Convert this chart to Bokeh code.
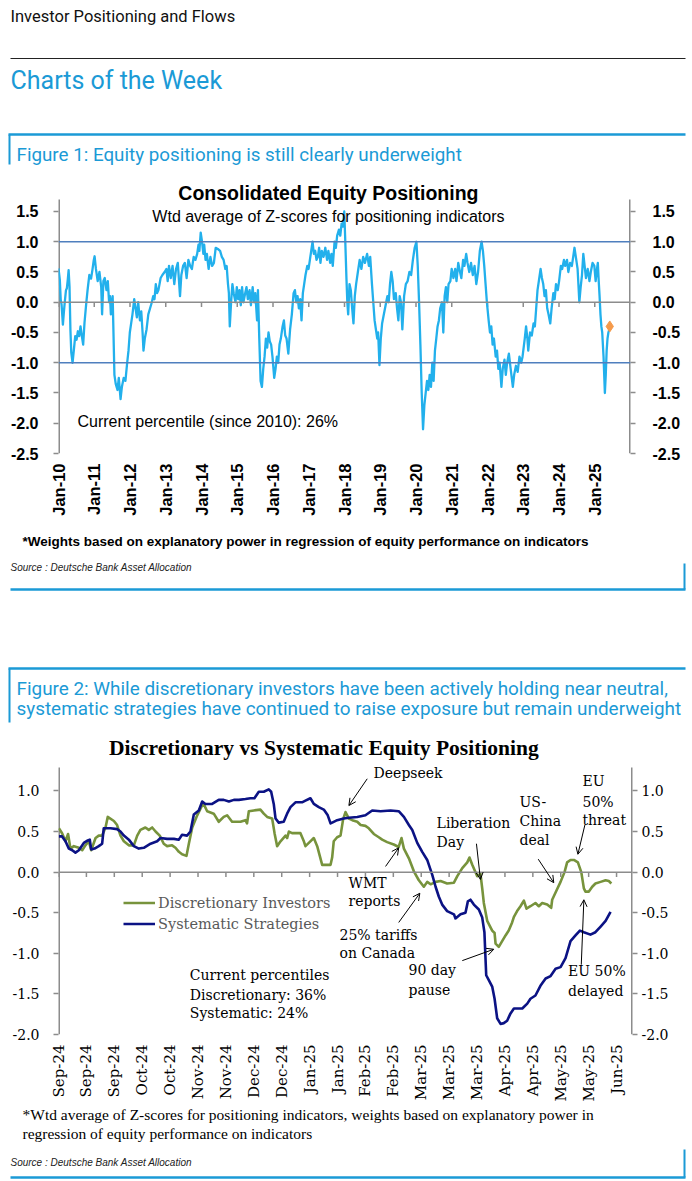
import math
from bokeh.plotting import figure
from bokeh.layouts import column
from bokeh.models import (Range1d, Span, Label, LinearAxis, FixedTicker,
                          NumeralTickFormatter, Arrow, OpenHead, ColumnDataSource,
                          Legend, LegendItem)
from bokeh.embed import file_html
from bokeh.resources import INLINE

# ---------------- Figure 1 data (decimal year, weighted z-score) ----------------
years1 = [
    2010.000, 2010.037, 2010.062, 2010.086, 2010.123, 2010.148, 2010.172, 2010.209, 2010.234, 2010.259,
    2010.283, 2010.308, 2010.333, 2010.357, 2010.394, 2010.431, 2010.468, 2010.505, 2010.542, 2010.579,
    2010.616, 2010.653, 2010.690, 2010.727, 2010.776, 2010.813, 2010.862, 2010.911, 2010.948, 2010.985,
    2011.010, 2011.047, 2011.096, 2011.145, 2011.195, 2011.219, 2011.256, 2011.293, 2011.342, 2011.379,
    2011.416, 2011.441, 2011.465, 2011.515, 2011.564, 2011.601, 2011.650, 2011.687, 2011.736, 2011.773,
    2011.823, 2011.872, 2011.921, 2011.958, 2011.995,
    2012.032, 2012.069, 2012.118, 2012.155, 2012.192, 2012.229, 2012.278, 2012.315, 2012.352, 2012.377,
    2012.414, 2012.463, 2012.512, 2012.562, 2012.611, 2012.648, 2012.685, 2012.722, 2012.758, 2012.795,
    2012.857, 2012.906, 2012.968,
    2013.017, 2013.054, 2013.091, 2013.140, 2013.190, 2013.239, 2013.288, 2013.337, 2013.399, 2013.436,
    2013.485, 2013.534, 2013.584, 2013.633, 2013.682, 2013.731, 2013.781, 2013.830, 2013.879, 2013.916,
    2013.941, 2013.978,
    2014.015, 2014.052, 2014.076, 2014.113, 2014.150, 2014.199, 2014.249, 2014.298, 2014.347, 2014.397,
    2014.458, 2014.520, 2014.569, 2014.618, 2014.667, 2014.704, 2014.741, 2014.766, 2014.791, 2014.828,
    2014.865, 2014.901, 2014.951, 2014.988,
    2015.025, 2015.062, 2015.099, 2015.135, 2015.172, 2015.222, 2015.259, 2015.296, 2015.345, 2015.382,
    2015.431, 2015.468, 2015.505, 2015.554, 2015.579, 2015.616, 2015.653, 2015.690, 2015.727, 2015.764,
    2015.801, 2015.837, 2015.874, 2015.911, 2015.948, 2015.985,
    2016.034, 2016.071, 2016.108, 2016.145, 2016.182, 2016.219, 2016.268, 2016.305, 2016.342, 2016.379,
    2016.429, 2016.478, 2016.527, 2016.576, 2016.613, 2016.650, 2016.687, 2016.724, 2016.761, 2016.798,
    2016.835, 2016.872, 2016.909, 2016.958, 2016.995,
    2017.032, 2017.069, 2017.106, 2017.143, 2017.180, 2017.217, 2017.254, 2017.291, 2017.328, 2017.365,
    2017.414, 2017.463, 2017.512, 2017.549, 2017.599, 2017.635, 2017.672, 2017.722, 2017.758, 2017.795,
    2017.845, 2017.882, 2017.919, 2017.956, 2017.993,
    2018.017, 2018.054, 2018.079, 2018.103, 2018.140, 2018.177, 2018.214, 2018.251, 2018.288, 2018.325,
    2018.374, 2018.424, 2018.473, 2018.522, 2018.571, 2018.633, 2018.682, 2018.719, 2018.768, 2018.805,
    2018.842, 2018.879, 2018.916, 2018.941, 2018.978,
    2019.015, 2019.052, 2019.101, 2019.150, 2019.199, 2019.236, 2019.273, 2019.310, 2019.347, 2019.384,
    2019.433, 2019.470, 2019.507, 2019.544, 2019.581, 2019.618, 2019.667, 2019.716, 2019.766, 2019.815,
    2019.864, 2019.913, 2019.963, 2020.012,
    2020.049, 2020.086, 2020.123, 2020.160, 2020.197, 2020.234, 2020.271, 2020.308, 2020.345, 2020.382,
    2020.419, 2020.456, 2020.493, 2020.530, 2020.567, 2020.603, 2020.640, 2020.677, 2020.727, 2020.764,
    2020.801, 2020.837, 2020.874, 2020.911, 2020.961, 2020.998,
    2021.047, 2021.096, 2021.133, 2021.182, 2021.231, 2021.268, 2021.318, 2021.355, 2021.404, 2021.441,
    2021.490, 2021.539, 2021.589, 2021.638, 2021.687, 2021.736, 2021.786, 2021.835, 2021.872, 2021.909,
    2021.946, 2021.983,
    2022.032, 2022.069, 2022.106, 2022.143, 2022.180, 2022.229, 2022.266, 2022.303, 2022.340, 2022.389,
    2022.426, 2022.475, 2022.512, 2022.549, 2022.598, 2022.648, 2022.709, 2022.746, 2022.796, 2022.845,
    2022.894, 2022.943, 2022.980,
    2023.042, 2023.079, 2023.116, 2023.140, 2023.190, 2023.239, 2023.288, 2023.325, 2023.362, 2023.399,
    2023.436, 2023.485, 2023.522, 2023.559, 2023.596, 2023.633, 2023.670, 2023.707, 2023.756, 2023.793,
    2023.842, 2023.879, 2023.916, 2023.966, 2024.003,
    2024.052, 2024.089, 2024.138, 2024.175, 2024.224, 2024.261, 2024.310, 2024.360, 2024.397, 2024.433,
    2024.483, 2024.520, 2024.569, 2024.606, 2024.643, 2024.680, 2024.717, 2024.754, 2024.803, 2024.852,
    2024.889, 2024.938, 2024.988,
    2025.025, 2025.062, 2025.086, 2025.111, 2025.135, 2025.160, 2025.185, 2025.209, 2025.246, 2025.283,
    2025.308, 2025.333, 2025.357, 2025.382, 2025.406]
zscore1 = [
    0.56, 0.37, 0.04, -0.04, -0.37, -0.18, -0.02, 0.20, 0.23, 0.37,
    0.53, 0.26, -0.45, -0.83, -1.00, -0.78, -0.56, -0.62, -0.48, -0.56,
    -0.40, -0.56, -0.70, -0.34, -0.02, 0.20, 0.45, 0.39, 0.53, 0.69,
    0.76, 0.55, 0.35, 0.50, 0.25, -0.20, 0.35, 0.40, 0.20, 0.35,
    0.00, 0.10, -0.20, 0.10, -1.20, -1.35, -1.45, -1.25, -1.60, -1.40,
    -1.25, -1.30, -1.00, -0.80, -0.50,
    -0.35, -0.20, 0.05, -0.10, -0.25, 0.00, -0.30, -0.15, -0.50, -0.80,
    -0.60, -0.45, -0.20, -0.10, 0.00, 0.10, 0.05, 0.30, 0.15, 0.20,
    0.40, 0.45, 0.50,
    0.55, 0.35, 0.60, 0.40, 0.60, 0.30, 0.55, 0.65, 0.10, 0.45,
    0.60, 0.65, 0.40, 0.70, 0.60, 0.55, 0.75, 0.70, 0.80, 0.95,
    0.85, 1.15,
    1.00, 0.80, 0.95, 0.70, 0.80, 0.55, 0.75, 0.60, 0.65, 0.90,
    0.88, 0.85, 0.75, 0.70, 0.55, 0.60, 0.30, 0.15, -0.40, 0.00,
    0.30, 0.15, 0.00, 0.25,
    0.05, 0.20, -0.05, 0.25, 0.00, 0.15, 0.25, 0.05, 0.20, -0.05,
    0.25, 0.00, 0.15, -0.30, 0.20, -0.60, -1.30, -1.40, -1.10, -0.90,
    -0.60, -0.75, -0.50, -0.65, -0.70, -0.90,
    -1.25, -1.10, -0.90, -1.00, -0.70, -0.60, -0.40, -0.30, -0.55, -0.60,
    -0.85, -0.45, -0.20, 0.15, 0.20, 0.00, 0.10, -0.10, 0.05, -0.30,
    0.15, 0.30, 0.45, 0.60, 0.55,
    0.70, 0.85, 1.00, 0.80, 0.85, 0.70, 0.75, 0.90, 0.65, 0.85,
    0.75, 0.90, 0.70, 0.85, 0.65, 0.80, 0.60, 1.00, 0.90, 1.10,
    1.20, 1.10, 1.30, 1.25, 1.50,
    1.10, 0.40, 0.00, -0.20, 0.30, 0.20, -0.10, -0.35, 0.10, 0.30,
    0.50, 0.70, 0.55, 0.75, 0.65, 0.80, 0.60, 0.75, 0.30, 0.00,
    -0.30, -0.45, -0.60, -0.50, -1.04,
    -0.60, -0.35, -0.20, -0.05, 0.10, 0.00, 0.30, 0.50, 0.35, 0.05,
    0.15, -0.10, -0.30, 0.10, 0.00, -0.45, 0.10, 0.30, 0.35, 0.50,
    0.45, 0.70, 0.90, 1.00,
    0.60, 0.00, -0.70, -1.50, -2.10, -1.70, -1.50, -1.30, -1.45, -1.20,
    -1.40, -1.00, -1.30, -0.80, -0.60, -0.40, -0.30, -0.10, 0.00, -0.50,
    0.10, 0.25, 0.00, 0.30, 0.35, 0.55,
    0.40, 0.55, 0.35, 0.65, 0.50, 0.40, 0.70, 0.60, 0.80, 0.65,
    0.50, 0.65, 0.45, 0.60, 0.30, 0.50, 0.85, 1.00, 0.85, 0.60,
    0.30, 0.00,
    -0.30, -0.50, -0.40, -0.70, -0.60, -0.90, -0.80, -1.10, -1.00, -1.40,
    -1.10, -0.95, -1.20, -1.00, -0.85, -1.10, -1.40, -1.20, -1.05, -1.15,
    -0.90, -1.00, -0.90,
    -0.60, -0.40, -0.60, -0.80, -0.50, -0.55, -0.35, -0.40, -0.10, 0.20,
    0.35, 0.55, 0.40, 0.30, 0.10, 0.20, -0.10, -0.20, -0.35, -0.10,
    0.15, 0.05, 0.30, 0.20, 0.35,
    0.60, 0.55, 0.70, 0.60, 0.70, 0.50, 0.65, 0.60, 0.75, 0.90,
    0.70, 0.55, 0.00, 0.25, 0.45, 0.80, 0.60, 0.40, 0.55, 0.35,
    0.50, 0.65, 0.60,
    0.35, 0.55, 0.65, 0.35, 0.10, -0.20, -0.40, -0.50, -0.90, -1.50,
    -1.20, -0.80, -0.60, -0.50, -0.45]
latest_year = [2025.42]
latest_value = [-0.4]
year_ticks = list(range(2010, 2026))
year_labels = ["Jan-10", "Jan-11", "Jan-12", "Jan-13", "Jan-14", "Jan-15", "Jan-16", "Jan-17",
               "Jan-18", "Jan-19", "Jan-20", "Jan-21", "Jan-22", "Jan-23", "Jan-24", "Jan-25"]
y_ticks1 = [-2.5, -2.0, -1.5, -1.0, -0.5, 0.0, 0.5, 1.0, 1.5]
axis_span1 = (-2.5, 1.70)

# ---------------- Figure 2 data (days since 2 Sep 2024) ----------------
disc_day = [0.2, 1.8, 3.5, 4.8, 6.0, 7.7, 10.2, 11.9, 13.5, 15.2, 16.4, 18.6, 20.2, 21.9, 23.6, 24.7,
            27.8, 29.4, 31.1, 32.8, 35.3, 37.8, 39.5, 41.1, 43.6, 45.3, 47.0, 48.7, 50.8, 52.8, 54.5,
            57.0, 58.7, 60.4, 62.0, 64.2, 65.4, 67.1, 69.6, 72.6, 74.6, 77.9, 80.4, 82.9, 84.6, 87.1,
            91.3, 93.8, 94.6, 95.5, 98.0, 101.3, 103.0, 104.7, 107.2, 108.4, 109.7, 111.4, 113.9,
            114.7, 115.6, 117.2, 121.4, 123.1, 123.9, 125.6, 128.1, 129.8, 131.1, 132.3, 136.5,
            137.3, 138.1, 139.8, 141.5, 142.8, 144.0, 145.7, 147.4, 149.9, 151.6, 154.0, 155.7,
            158.2, 160.7, 162.4, 164.9, 168.2, 170.7, 172.1, 173.3, 175.8, 178.3, 180.8, 183.3,
            185.0, 186.7, 189.2, 191.7, 195.0, 198.4, 200.1, 202.6, 205.1, 206.2, 207.6, 210.1,
            211.7, 212.6, 213.4, 215.1, 217.6, 218.8, 219.3, 220.9, 222.6, 224.3, 225.9, 227.6,
            228.5, 230.1, 231.8, 233.5, 234.8, 236.8, 239.3, 241.0, 242.7, 245.2, 247.2, 247.7,
            249.4, 251.9, 253.9, 255.2, 256.9, 258.6, 260.6, 262.3, 263.6, 264.4, 266.1, 267.8,
            269.4, 272.0, 274.5, 276.1, 277.4]
disc_val = [0.54, 0.48, 0.38, 0.47, 0.29, 0.32, 0.30, 0.27, 0.33, 0.38, 0.27, 0.42, 0.45, 0.45, 0.55, 0.68,
            0.63, 0.58, 0.45, 0.38, 0.33, 0.33, 0.45, 0.52, 0.55, 0.52, 0.55, 0.50, 0.45, 0.35, 0.32,
            0.33, 0.30, 0.25, 0.22, 0.20, 0.35, 0.55, 0.70, 0.85, 0.75, 0.72, 0.62, 0.68, 0.70, 0.62,
            0.62, 0.64, 0.60, 0.75, 0.76, 0.77, 0.72, 0.68, 0.66, 0.48, 0.32, 0.38, 0.45,
            0.42, 0.50, 0.48, 0.48, 0.38, 0.32, 0.36, 0.42, 0.32, 0.20, 0.09, 0.09,
            0.18, 0.38, 0.43, 0.45, 0.65, 0.74, 0.66, 0.64, 0.62, 0.58, 0.57, 0.54,
            0.47, 0.43, 0.40, 0.37, 0.34, 0.31, 0.42, 0.29, 0.17, 0.01, -0.10, -0.18,
            -0.12, -0.15, -0.12, -0.11, -0.14, -0.13, -0.05, 0.05, 0.12, 0.18, 0.09, -0.05,
            -0.02, -0.20, -0.38, -0.60, -0.72, -0.75, -0.88, -0.92, -0.85, -0.78, -0.72, -0.62,
            -0.55, -0.48, -0.42, -0.35, -0.45, -0.42, -0.38, -0.42, -0.38, -0.40, -0.44, -0.34,
            -0.25, -0.12, 0.0, 0.12, 0.15, 0.15, 0.12, 0.0, -0.20, -0.24, -0.24, -0.18,
            -0.14, -0.12, -0.10, -0.11, -0.14]
sys_day = [0.2, 1.8, 3.5, 5.2, 6.9, 8.5, 10.2, 12.7, 14.7, 15.7, 16.4, 18.1, 20.2, 21.9, 22.7, 26.1,
           29.4, 31.1, 32.8, 35.3, 37.8, 40.3, 42.8, 46.2, 49.5, 51.2, 54.5, 57.9, 60.4, 62.0, 64.5,
           66.2, 67.9, 70.4, 72.1, 73.7, 77.1, 80.4, 82.9, 85.5, 88.0, 90.5, 93.8, 96.3, 98.3, 100.5,
           103.0, 105.5, 106.7, 108.0, 108.9, 110.5, 113.0, 114.7, 116.4, 118.9, 122.2, 123.9, 126.4,
           128.1, 130.6, 133.1, 135.1, 136.5, 138.1, 139.8, 143.1, 145.7, 149.9, 154.0, 157.4, 161.6,
           166.6, 170.7, 173.3, 175.8, 177.5, 180.0, 182.5, 185.0, 187.5, 189.2, 190.8, 192.5, 195.0,
           198.4, 199.2, 201.7, 204.2, 205.4, 206.7, 208.4, 210.9, 212.6, 213.7, 214.6, 215.9, 217.6,
           218.8, 220.1, 221.8, 223.4, 225.1, 226.8, 228.5, 232.7, 235.2, 236.8, 239.3, 241.8, 244.4,
           246.9, 249.4, 251.9, 254.4, 256.9, 259.4, 261.6, 263.6, 266.9, 269.4, 272.0, 274.5, 277.0]
sys_val = [0.44, 0.44, 0.38, 0.29, 0.27, 0.24, 0.27, 0.36, 0.39, 0.40, 0.28, 0.29, 0.32, 0.35, 0.54, 0.54,
           0.53, 0.50, 0.45, 0.40, 0.32, 0.29, 0.30, 0.35, 0.38, 0.42, 0.41, 0.41, 0.40, 0.46, 0.45,
           0.50, 0.71, 0.76, 0.87, 0.84, 0.84, 0.89, 0.89, 0.87, 0.89, 0.89, 0.90, 0.91, 0.91, 0.99,
           0.99, 1.02, 0.99, 0.84, 0.66, 0.61, 0.62, 0.72, 0.80, 0.86, 0.86, 0.88, 0.91,
           0.84, 0.80, 0.77, 0.70, 0.60, 0.62, 0.64, 0.66, 0.67, 0.68, 0.70, 0.76, 0.75,
           0.76, 0.75, 0.68, 0.58, 0.52, 0.36, 0.25, 0.15, -0.03, -0.18, -0.30, -0.40, -0.48,
           -0.52, -0.57, -0.52, -0.50, -0.36, -0.34, -0.40, -0.46, -0.56, -0.74, -1.27, -1.33, -1.41,
           -1.56, -1.80, -1.87, -1.86, -1.83, -1.74, -1.68, -1.68, -1.62, -1.56, -1.52, -1.40, -1.31,
           -1.28, -1.19, -1.17, -1.06, -0.85, -0.78, -0.72, -0.74, -0.77, -0.74, -0.67, -0.60, -0.49]
day_ticks = list(range(0, 281, 14))
day_labels = ["Sep-24", "Sep-24", "Sep-24", "Oct-24", "Oct-24", "Nov-24", "Nov-24", "Dec-24",
              "Dec-24", "Jan-25", "Jan-25", "Feb-25", "Feb-25", "Mar-25", "Mar-25", "Mar-25",
              "Apr-25", "Apr-25", "May-25", "May-25", "Jun-25"]
y_ticks2 = [-2.0, -1.5, -1.0, -0.5, 0.0, 0.5, 1.0]
axis_span2 = (-2.0, 1.29)

# event notes: (text, day, value) and arrows (day0, val0, day1, val1)
notes2 = [("Deepseek", 158.1, 1.22),
          ("WMT", 145.5, -0.13), ("reports", 145.5, -0.36),
          ("25% tariffs", 141.0, -0.77), ("on Canada", 141.0, -1.00),
          ("Liberation", 189.7, 0.60), ("Day", 189.7, 0.37),
          ("90 day", 175.6, -1.20), ("pause", 175.6, -1.45),
          ("US-", 231.3, 0.86), ("China", 231.3, 0.63), ("deal", 231.3, 0.39),
          ("EU", 262.9, 1.12), ("50%", 262.9, 0.87), ("threat", 262.9, 0.64),
          ("EU 50%", 255.7, -1.22), ("delayed", 255.7, -1.46),
          ("Current percentiles", 65.9, -1.265), ("Discretionary: 36%", 65.9, -1.515),
          ("Systematic: 24%", 65.9, -1.74)]
arrows2 = dict(x0=[154.9, 164.1, 170.7, 209.7, 202.6, 240.7, 264.1, 262.3],
               y0=[1.15, 0.07, -0.62, 0.35, -1.09, 0.16, 0.58, -1.14],
               x1=[145.7, 170.7, 181.3, 211.7, 218.4, 248.5, 260.6, 263.6],
               y1=[0.82, 0.30, -0.26, -0.09, -0.95, -0.13, 0.22, -0.34])

# ---------------- styling ----------------
W = 692
DB_BLUE = "#1B9AD6"
GRAY = "#8C8C8C"
LINE1 = "#22B0EC"
BAND = "#4F7FBE"
ORANGE = "#F59A4B"
GREEN = "#77933C"
NAVY = "#0B1284"


def deco(top, bottom):
    p = figure(width=W, height=bottom - top, x_range=Range1d(0, W),
               y_range=Range1d(bottom, top), x_axis_type=None, y_axis_type=None,
               toolbar_location=None, output_backend="svg", min_border=0,
               outline_line_color=None, frame_align=False)
    return p


def label(p, x, y, s, size, color="black", font="Liberation Sans", style="normal", align="left"):
    p.add_layout(Label(x=x, y=y, text=s, text_font=font, text_font_size=f"{size}px",
                       text_color=color, text_font_style=style, text_align=align,
                       text_baseline="middle"))


def style_y(ax, ticks, font, size, bold, standoff):
    ax.ticker = FixedTicker(ticks=ticks)
    ax.formatter = NumeralTickFormatter(format="0.0")
    ax.axis_line_color = None
    ax.major_tick_line_color = GRAY
    ax.major_tick_line_width = 1.5
    ax.major_tick_out = 5
    ax.major_tick_in = 0
    ax.minor_tick_line_color = None
    ax.major_label_text_font = font
    ax.major_label_text_font_size = f"{size}px"
    ax.major_label_text_font_style = "bold" if bold else "normal"
    ax.major_label_text_color = "black"
    ax.major_label_standoff = standoff


def style_x(ax, ticks, labels, font, size, bold):
    ax.ticker = FixedTicker(ticks=ticks)
    ax.major_label_overrides = {t: l for t, l in zip(ticks, labels)}
    ax.axis_line_color = None
    ax.major_tick_line_color = None
    ax.minor_tick_line_color = None
    ax.major_tick_out = 0
    ax.major_tick_in = 0
    ax.major_label_orientation = math.pi / 2
    ax.major_label_standoff = 10
    ax.major_label_text_font = font
    ax.major_label_text_font_size = f"{size}px"
    ax.major_label_text_font_style = "bold" if bold else "normal"
    ax.major_label_text_color = "black"


# ---------------- header (page y 0 -> 180) ----------------
d1 = deco(0, 180)
label(d1, 10, 16, "Investor Positioning and Flows", 16.5, "#111111", "Roboto")
d1.line([10, 685], [58, 58], line_color="#222222", line_width=1.2)
label(d1, 10, 80, "Charts of the Week", 25, DB_BLUE, "Roboto")
d1.line([8, 685], [134, 134], line_color=DB_BLUE, line_width=2.5)
d1.line([9, 9], [134, 164], line_color=DB_BLUE, line_width=2)
label(d1, 16, 154, "Figure 1: Equity positioning is still clearly underweight", 18.8, DB_BLUE, "Roboto")

# ---------------- chart 1 (page y 180 -> 525) ----------------
p1 = figure(width=W, height=345, x_range=Range1d(2010, 2026), y_range=Range1d(-2.5, 2.012),
            toolbar_location=None, output_backend="svg", frame_align=False,
            min_border_left=58, min_border_right=62, min_border_top=0, min_border_bottom=72,
            outline_line_color=None)
p1.grid.visible = False
style_y(p1.yaxis[0], y_ticks1, "Liberation Sans", 16, True, 15)
ry1 = LinearAxis()
style_y(ry1, y_ticks1, "Liberation Sans", 16, True, 17)
p1.add_layout(ry1, "right")
style_x(p1.xaxis[0], year_ticks, year_labels, "Liberation Sans", 16.5, True)
p1.segment(x0=[2010, 2026], y0=[axis_span1[0]] * 2, x1=[2010, 2026], y1=[axis_span1[1]] * 2,
           line_color=GRAY, line_width=3)
p1.add_layout(Span(location=1.0, dimension="width", line_color=BAND, line_width=1.3))
p1.add_layout(Span(location=-1.0, dimension="width", line_color=BAND, line_width=1.3))
p1.add_layout(Span(location=0.0, dimension="width", line_color=GRAY, line_width=1.5))
p1.segment(x0=year_ticks, y0=[0] * len(year_ticks), x1=year_ticks, y1=[-0.08] * len(year_ticks),
           line_color=GRAY, line_width=1.5)
p1.line(years1, zscore1, line_color=LINE1, line_width=2.3, line_join="round")
p1.scatter(latest_year, latest_value, marker="diamond", size=11, fill_color=ORANGE,
           line_color=ORANGE)
label(p1, 2017.55, 1.80, "Consolidated Equity Positioning", 19.5, "black", "Liberation Sans",
      "bold", "center")
label(p1, 2017.55, 1.417, "Wtd average of Z-scores for positioning indicators", 16, "black",
      "Liberation Sans", "normal", "center")
label(p1, 2010.53, -1.97, "Current percentile (since 2010): 26%", 16, "black", "Liberation Sans")

# ---------------- middle (page y 525 -> 735) ----------------
d2 = deco(525, 735)
label(d2, 22, 541, "*Weights based on explanatory power in regression of equity performance on indicators",
      13.5, "black", "Liberation Sans", "bold")
label(d2, 10, 567, "Source : Deutsche Bank Asset Allocation", 10, "#222222", "Liberation Sans", "italic")
d2.line([684, 684], [563, 589], line_color=DB_BLUE, line_width=2)
d2.line([10, 685], [589, 589], line_color=DB_BLUE, line_width=2.5)
d2.line([8, 685], [668, 668], line_color=DB_BLUE, line_width=2.5)
d2.line([9, 9], [668, 722], line_color=DB_BLUE, line_width=2)
label(d2, 16, 688, "Figure 2: While discretionary investors have been actively holding near neutral,",
      18.9, DB_BLUE, "Roboto")
label(d2, 16, 708, "systematic strategies have continued to raise exposure but remain underweight",
      18.9, DB_BLUE, "Roboto")

# ---------------- chart 2 (page y 735 -> 1104) ----------------
p2 = figure(width=W, height=369, x_range=Range1d(0, 288), y_range=Range1d(-2.0, 1.683),
            toolbar_location=None, output_backend="svg", frame_align=False,
            min_border_left=58, min_border_right=60, min_border_top=0, min_border_bottom=67,
            outline_line_color=None)
p2.grid.visible = False
style_y(p2.yaxis[0], y_ticks2, "DejaVu Serif", 14, False, 14)
ry2 = LinearAxis()
style_y(ry2, y_ticks2, "DejaVu Serif", 14, False, 4)
p2.add_layout(ry2, "right")
style_x(p2.xaxis[0], day_ticks, day_labels, "DejaVu Serif", 15, False)
p2.segment(x0=[0, 288], y0=[axis_span2[0]] * 2, x1=[0, 288], y1=[axis_span2[1]] * 2,
           line_color=GRAY, line_width=3)
p2.add_layout(Span(location=0.0, dimension="width", line_color=GRAY, line_width=1.5))
p2.segment(x0=day_ticks, y0=[0] * len(day_ticks), x1=day_ticks, y1=[-0.06] * len(day_ticks),
           line_color=GRAY, line_width=1.5)
r_disc = p2.line(disc_day, disc_val, line_color=GREEN, line_width=2.6, line_join="round")
r_sys = p2.line(sys_day, sys_val, line_color=NAVY, line_width=2.6, line_join="round")
legend = Legend(items=[LegendItem(label="Discretionary Investors", renderers=[r_disc]),
                       LegendItem(label="Systematic Strategies", renderers=[r_sys])],
                location=(65, 100), border_line_color=None, background_fill_alpha=0,
                padding=0, margin=0, spacing=0, glyph_width=32, glyph_height=21,
                label_height=21, label_standoff=3, label_text_font="DejaVu Serif",
                label_text_font_size="14.5px", label_text_color="#595959")
p2.add_layout(legend)
label(p2, 134.5, 1.524, "Discretionary  vs Systematic Equity Positioning", 21.5, "black",
      "Liberation Serif", "bold", "center")
for s, dx, vy in notes2:
    label(p2, dx, vy, s, 14, "black", "DejaVu Serif")
p2.add_layout(Arrow(end=OpenHead(size=7, line_width=1, line_color="black"),
                    x_start="x0", y_start="y0", x_end="x1", y_end="y1",
                    source=ColumnDataSource(arrows2), line_width=1, line_color="black"))

# ---------------- footer (page y 1104 -> 1181) ----------------
d3 = deco(1104, 1181)
label(d3, 22, 1114, "*Wtd average of Z-scores for positioning indicators, weights based on explanatory power in",
      15.5, "black", "Liberation Serif")
label(d3, 22, 1133, "regression of equity performance on indicators", 15.5, "black", "Liberation Serif")
label(d3, 10, 1162, "Source : Deutsche Bank Asset Allocation", 10, "#222222", "Liberation Sans", "italic")
d3.line([684, 684], [1149, 1177], line_color=DB_BLUE, line_width=2)
d3.line([10, 685], [1177, 1177], line_color=DB_BLUE, line_width=2.5)

page = column(d1, p1, d2, p2, d3)
open("out.html", "w").write(file_html(page, INLINE))
